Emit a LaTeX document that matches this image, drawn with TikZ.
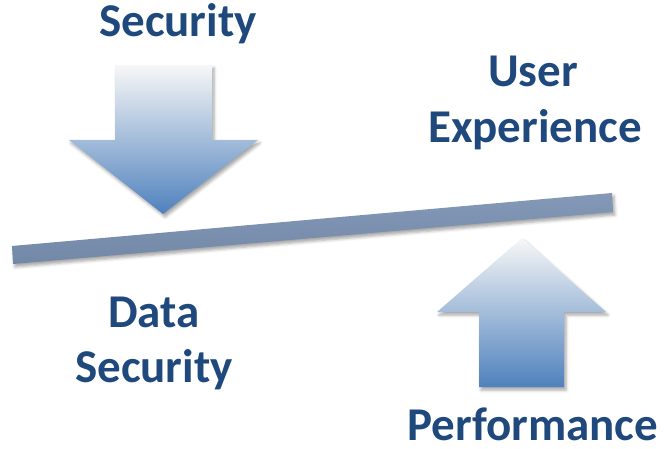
\documentclass[tikz,border=0pt]{standalone}
\usepackage{fontspec}
\setmainfont{Carlito}
\usetikzlibrary{shadows.blur}
\definecolor{txtblue}{RGB}{31,73,125}
\definecolor{arrblue}{RGB}{79,129,189}
\definecolor{arrmid}{RGB}{180,200,228}
\definecolor{arrtop}{RGB}{247,247,247}
\definecolor{bartop}{RGB}{132,153,183}
\definecolor{barbot}{RGB}{114,136,167}
\begin{document}
\begin{tikzpicture}[x=1pt,y=-1pt,
  lbl/.style={text=txtblue,font=\bfseries\fontsize{47}{56}\selectfont,anchor=base,inner sep=0pt,text depth=0pt},
  shad/.style={blur shadow={shadow xshift=2pt,shadow yshift=-3pt,shadow blur radius=3pt,shadow opacity=35}}]
\useasboundingbox (0,0) rectangle (664,449);
% balance bar
\path[shad,top color=bartop,bottom color=barbot]
  (12,246) -- (612,193) -- (613,212) -- (13,264) -- cycle;
% down arrow
\path[shad,top color=arrtop,middle color=arrmid,bottom color=arrblue]
  (115,65) -- (212,65) -- (212,140) -- (258,140) -- (163,214) -- (69,140) -- (115,140) -- cycle;
% up arrow
\path[shad,top color=arrtop,middle color=arrmid,bottom color=arrblue]
  (522,238) -- (606,312) -- (564,312) -- (564,387) -- (479,387) -- (479,312) -- (437,312) -- cycle;
% labels
\node[lbl] (sec) at (178,37) {Security};
\node[lbl] (user) at (533,87) {User};
\node[lbl] (exp) at (535,143) {Experience};
\node[lbl] (data) at (154,327) {Data};
\node[lbl] (dsec) at (154,382) {Security};
\node[lbl] (perf) at (533,440) {Performance};
\end{tikzpicture}
\end{document}
